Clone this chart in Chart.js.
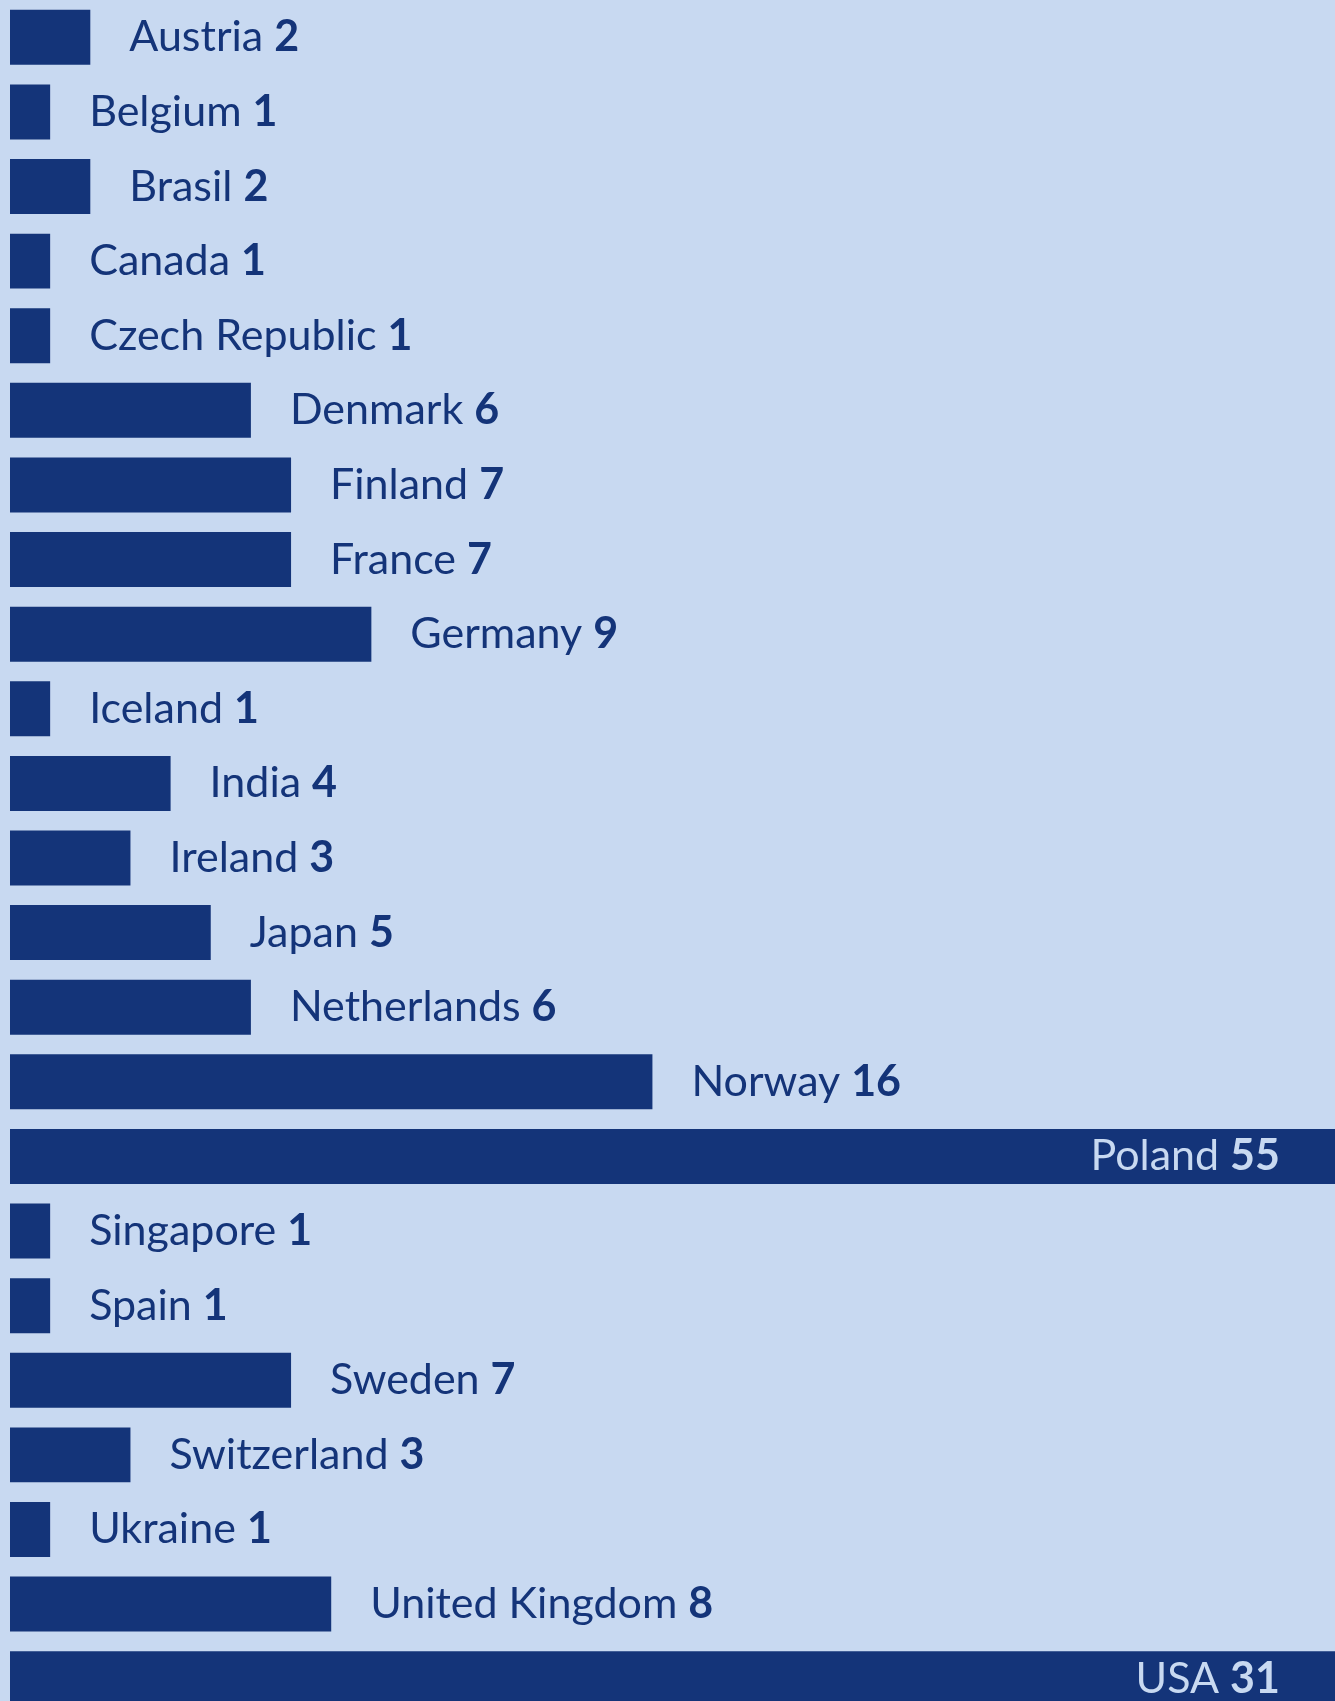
<!DOCTYPE html>
<html>
<head>
<meta charset="utf-8">
<script src="https://cdn.jsdelivr.net/npm/chart.js@4"></script>
<style>
  html, body { margin: 0; padding: 0; background: #c8d9f1; overflow: hidden; }
  #wrap { width: 1335px; height: 1716px; position: relative; }
</style>
</head>
<body>
<div id="wrap"><canvas id="countryChart"></canvas></div>
<script>
const countries = [
  'Austria', 'Belgium', 'Brasil', 'Canada', 'Czech Republic', 'Denmark',
  'Finland', 'France', 'Germany', 'Iceland', 'India', 'Ireland', 'Japan',
  'Netherlands', 'Norway', 'Poland', 'Singapore', 'Spain', 'Sweden',
  'Switzerland', 'Ukraine', 'United Kingdom', 'USA'
];
const counts = [2, 1, 2, 1, 1, 6, 7, 7, 9, 1, 4, 3, 5, 6, 16, 55, 1, 1, 7, 3, 1, 8, 31];

const barColor = '#143479';
const bgColor = '#c8d9f1';
const fontFamily = 'Lato, "Noto Sans", sans-serif';
const labelGap = 39;

function labelWidths(ctx, i) {
  ctx.font = '400 43px ' + fontFamily;
  const nameW = ctx.measureText(countries[i] + ' ').width;
  ctx.font = '700 43px ' + fontFamily;
  const valW = ctx.measureText(String(counts[i])).width;
  return [nameW, valW];
}

// bars whose label can't fit to the right get stretched to the edge, label goes inside
const barLabels = {
  id: 'barLabels',
  beforeDatasetsDraw(chart) {
    const ctx = chart.ctx;
    const xs = chart.scales.x;
    const right = chart.chartArea.right;
    chart.getDatasetMeta(0).data.forEach((bar, i) => {
      const [nameW, valW] = labelWidths(ctx, i);
      bar.$inside = bar.x + labelGap + nameW + valW > right;
      if (bar.$inside) bar.x = xs.getPixelForValue(xs.max);
    });
  },
  afterDatasetsDraw(chart) {
    const ctx = chart.ctx;
    const area = chart.chartArea;
    ctx.save();
    ctx.textBaseline = 'alphabetic';
    chart.getDatasetMeta(0).data.forEach((bar, i) => {
      const [nameW, valW] = labelWidths(ctx, i);
      const y = bar.y + 14;
      let x;
      if (bar.$inside) {
        ctx.fillStyle = bgColor;
        x = area.right - 55 - nameW - valW;
      } else {
        ctx.fillStyle = barColor;
        x = bar.x + labelGap;
      }
      ctx.font = '400 43px ' + fontFamily;
      ctx.fillText(countries[i] + ' ', x, y);
      ctx.font = '700 43px ' + fontFamily;
      ctx.fillText(String(counts[i]), x + nameW, y);
    });
    ctx.restore();
  }
};

new Chart(document.getElementById('countryChart'), {
  type: 'bar',
  data: {
    labels: countries,
    datasets: [{
      data: counts,
      backgroundColor: barColor,
      borderWidth: 0,
      barPercentage: 1,
      categoryPercentage: 0.737
    }]
  },
  options: {
    indexAxis: 'y',
    responsive: true,
    maintainAspectRatio: false,
    animation: false,
    layout: { padding: { left: 10, right: 0, top: 0, bottom: 0 } },
    scales: {
      x: { min: 0, max: 33, display: false },
      y: { display: false }
    },
    plugins: {
      legend: { display: false },
      tooltip: { enabled: false }
    }
  },
  plugins: [barLabels]
});
</script>
</body>
</html>
